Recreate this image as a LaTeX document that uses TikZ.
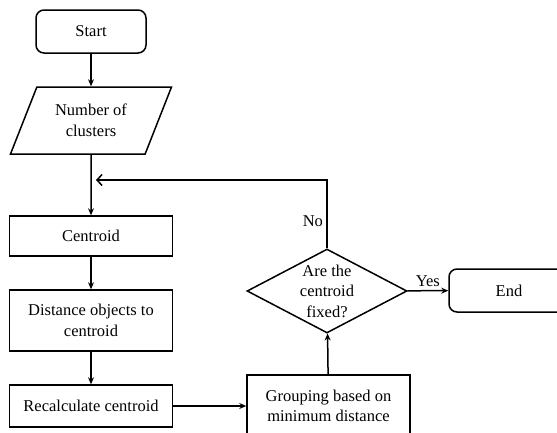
\documentclass[tikz,border=0pt]{standalone}
\usepackage{fontspec}
\setmainfont{Liberation Serif}
\usetikzlibrary{
  arrows.meta,
  positioning,
  shapes.geometric
}

\begin{document}
\begin{tikzpicture}[x=1pt,y=-1pt,
    line width=1.5pt,
    label font/.style={font=\fontsize{16.5}{20.5}\selectfont},
    box/.style={draw,align=center,minimum width=163pt,inner sep=2pt,label font},
    term/.style={box,rounded corners=8pt,minimum width=110pt,minimum height=43pt},
    io/.style={box,trapezium,trapezium left angle=54,trapezium right angle=126,
      trapezium stretches body,minimum width=161pt,minimum height=67pt},
    decision/.style={box,diamond,aspect=1.9,inner sep=0pt,minimum width=160pt,minimum height=84pt},
    arr/.style={-{Stealth[length=7pt,width=6pt]}}]
    \clip (0,0) rectangle (557,432);

    % Main column
    \node[term] (start) at (91,31.5) {Start};
    \node[io] (clusters) at (91,120.5) {Number of\\clusters};
    \node[box,minimum height=40pt] (centroid) at (91,236) {Centroid};
    \node[box,minimum height=61pt] (distance) at (91,320.5) {Distance objects to\\centroid};
    \node[box,minimum height=42pt] (recalc) at (91,406) {Recalculate centroid};

    % Right part
    \node[box,minimum height=62pt] (grouping) at (328.5,406) {Grouping based on\\minimum distance};
    \node[decision] (fixed) at (327,291) {Are the\\centroid\\fixed?};
    \node[term,minimum width=120pt] (end) at (509,290.5) {End};
    \coordinate (loop) at (0,180);

    % Connectors
    \draw[arr] (start) -- (clusters);
    \draw[arr] (clusters) -- (centroid);
    \draw[arr] (centroid) -- (distance);
    \draw[arr] (distance) -- (recalc);
    \draw[arr] (recalc) -- (grouping);
    \draw[arr] (grouping) -- (fixed);
    \draw[arr] (fixed) -- node[above,label font] (yes) {Yes} (end);
    \draw[-{Straight Barb[length=5pt,width=11pt]},shorten >=5pt] (fixed.north)
      -- node[left,pos=0.4,label font] (no) {No} (fixed.north |- loop)
      -- (clusters.south |- loop);
\end{tikzpicture}
\end{document}
